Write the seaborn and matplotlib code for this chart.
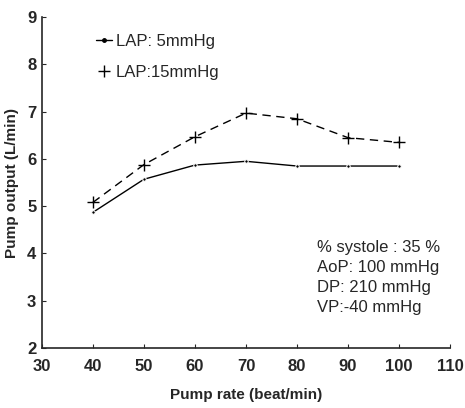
import numpy as np
import pandas as pd
import seaborn as sns
import matplotlib.pyplot as plt
from matplotlib.lines import Line2D

sns.set_style("ticks")
plt.rcParams["font.family"] = ["Liberation Sans", "DejaVu Sans"]

pump_rate = [40, 50, 60, 70, 80, 90, 100]
lap5 = [4.87, 5.57, 5.87, 5.95, 5.85, 5.85, 5.85]
lap15 = [5.08, 5.88, 6.47, 6.97, 6.85, 6.45, 6.35]
series_names = ["LAP: 5mmHg", "LAP:15mmHg"]

fig = plt.figure(figsize=(4.65, 4.08), dpi=100)
ax = fig.add_axes([0.09, 0.147, 0.878, 0.811])

# solid line with small dots
sns.lineplot(x=pump_rate, y=lap5, color="black", linewidth=1.0,
             marker="o", markersize=2.5, ax=ax)
# dashed line with plus markers
sns.lineplot(x=pump_rate, y=lap15, color="black", linewidth=1.0,
             linestyle=(0, (6, 4)), marker="+", markersize=8,
             markeredgewidth=1.0, markeredgecolor="black", ax=ax)

ax.set_xlim(30, 110)
ax.set_ylim(2, 9)
ax.set_xticks(range(30, 111, 10))
ax.set_yticks(range(2, 10))
ax.tick_params(direction="in", length=3, labelsize=12, width=0.8)
ax.tick_params(axis="x", pad=8)
ax.tick_params(axis="y", pad=4)
for lbl in ax.get_xticklabels() + ax.get_yticklabels():
    lbl.set_fontweight("bold")
sns.despine(ax=ax)
ax.spines["left"].set_linewidth(1.2)
ax.spines["bottom"].set_linewidth(1.2)

ax.set_xlabel("Pump rate (beat/min)", fontsize=11, fontweight="bold", labelpad=10)
ax.set_ylabel("Pump output (L/min)", fontsize=11, fontweight="bold", labelpad=6)

handles = [Line2D([], [], color="black", lw=1.0, marker="o", markersize=2.5),
           Line2D([], [], color="none", marker="+", markersize=9, markeredgecolor="black")]
ax.legend(handles, series_names, loc="upper left", bbox_to_anchor=(0.095, 0.995),
          frameon=False, fontsize=12, handlelength=1.0, handletextpad=0.2,
          labelspacing=0.95)

ax.text(0.675, 0.327, "% systole : 35 %\nAoP: 100 mmHg\nDP: 210 mmHg\nVP:-40 mmHg",
        transform=ax.transAxes, fontsize=12, va="top", linespacing=1.42)

fig.savefig("out.png", dpi=100)
